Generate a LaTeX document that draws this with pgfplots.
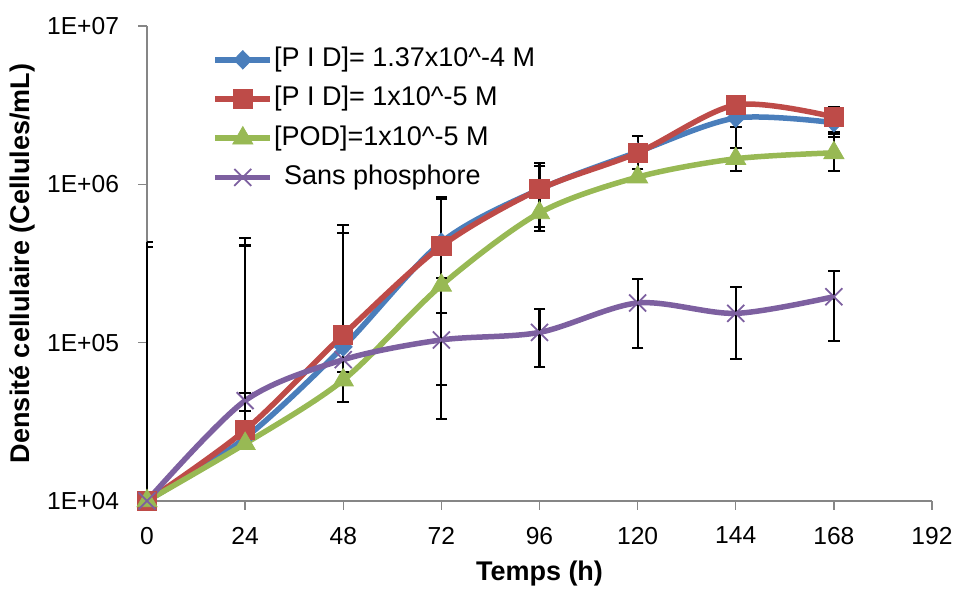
\documentclass[border=0pt]{standalone}
\usepackage{fontspec}
\setmainfont{Liberation Sans}
\usepackage{pgfplots}
\pgfplotsset{compat=1.18}
\usetikzlibrary{plotmarks}
\definecolor{cblue}{HTML}{4A7EBB}
\definecolor{cred}{HTML}{BE4B48}
\definecolor{cgreen}{HTML}{98B954}
\definecolor{cpurple}{HTML}{7D60A0}
\definecolor{axgray}{HTML}{868686}
\pgfplotsset{
  ebar/.style={black, line width=1.1pt, forget plot},
  ecap/.style={black, only marks, mark=-, mark size=2.9pt, mark options={line width=1.1pt, solid}, forget plot},
  sblue/.style={cblue, line width=2.75pt, mark=diamond*, mark size=4.6pt, mark options={fill=cblue, draw=cblue, line width=0.4pt, xscale=1.3}},
  sred/.style={cred, line width=2.75pt, mark=square*, mark size=4.8pt, mark options={fill=cred, draw=cred, line width=0.4pt}},
  sgreen/.style={cgreen, line width=2.75pt, mark=triangle*, mark size=5.8pt, mark options={fill=cgreen, draw=cgreen, line width=0.4pt}},
  spurple/.style={cpurple, line width=2.75pt, mark=x, mark size=6pt, mark options={draw=cpurple, line width=0.9pt}},
}
\begin{document}
\begin{tikzpicture}
\begin{axis}[
  scale only axis, width=392.5pt, height=237.5pt,
  ymode=log, xmin=0, xmax=192, ymin=1e4, ymax=1e7,
  clip=false,
  axis x line=bottom, axis y line=left,
  axis line style={axgray, line width=0.7pt, -},
  tick style={axgray, line width=0.7pt},
  tick align=outside, major tick length=4.5pt,
  xtick={0,24,...,192},
  ytick={1e4,1e5,1e6,1e7}, yticklabels={1E+04,1E+05,1E+06,1E+07},
  yminorticks=false,
  /pgf/number format/assume math mode=true,
  ticklabel style={font=\fontsize{12.3}{14}\selectfont, black},
  yticklabel style={xshift=-6pt},
  xticklabel style={yshift=-5pt},
  every axis y label/.style={at={(axis description cs:-0.159,0.5)}, rotate=90, anchor=center, font=\fontsize{13.5}{15}\selectfont\bfseries},
  every axis x label/.style={at={(axis description cs:0.5,-0.152)}, anchor=center, font=\fontsize{13.5}{15}\selectfont\bfseries},
  ylabel={Densité cellulaire (Cellules/mL)},
  xlabel={Temps (h)},
  legend cell align=left,
  legend style={draw=none, fill=none, at={(0.083,0.958)}, anchor=north west,
    inner sep=0pt, row sep=6.1pt, column sep=0pt,
    font=\fontsize{13.5}{15}\selectfont,
    nodes={inner sep=0.5pt, text height=9.7pt, text depth=2.8pt}},
  legend image code/.code={\draw[mark repeat=2, mark phase=2, #1] plot coordinates {(0pt,0pt) (13.75pt,0pt) (27.5pt,0pt)};},
]
% invisible frame giving the picture its proportions
\path (axis description cs:-0.1873,-0.1789) rectangle (axis description cs:1.0408,1.0547);

% lines
\addplot[sblue, no marks, smooth, forget plot] coordinates {(0,1e4) (24,2.5e4) (48,9.4e4) (72,4.3e5) (96,9.3e5) (120,1.6e6) (144,2.62e6) (168,2.45e6)};
\addplot[sred, no marks, smooth, forget plot] coordinates {(0,1e4) (24,2.8e4) (48,1.12e5) (72,4.07e5) (96,9.3e5) (120,1.58e6) (144,3.17e6) (168,2.66e6)};
\addplot[sgreen, no marks, smooth, forget plot] coordinates {(0,1e4) (24,2.3e4) (48,5.8e4) (72,2.3e5) (96,6.6e5) (120,1.11e6) (144,1.45e6) (168,1.58e6)};
\addplot[spurple, no marks, smooth, forget plot] coordinates {(0,1e4) (24,4.3e4) (48,7.8e4) (72,1.04e5) (96,1.16e5) (120,1.78e5) (144,1.53e5) (168,1.95e5)};

% error bars
\addplot[ebar] coordinates {(0,1e4) (0,4.3e5)};
\addplot[ebar] coordinates {(24,2.6e4) (24,4.6e5)};
\addplot[ebar] coordinates {(48,4.2e4) (48,5.5e5)};
\addplot[ebar] coordinates {(72,3.3e4) (72,8.3e5)};
\addplot[ebar] coordinates {(96,5.07e5) (96,1.36e6)};
\addplot[ebar] coordinates {(96,7.0e4) (96,1.63e5)};
\addplot[ebar] coordinates {(120,1.25e6) (120,2.02e6)};
\addplot[ebar] coordinates {(120,9.2e4) (120,2.52e5)};
\addplot[ebar] coordinates {(144,1.21e6) (144,3.0e6)};
\addplot[ebar] coordinates {(144,7.9e4) (144,2.24e5)};
\addplot[ebar] coordinates {(168,1.21e6) (168,3.08e6)};
\addplot[ebar] coordinates {(168,1.02e5) (168,2.83e5)};
% caps at t=0 (half, clipped by the axis)
\addplot[ecap, mark options={line width=1.1pt, xshift=1.45pt, xscale=0.5}] coordinates {(0,4.3e5) (0,4.0e5)};
% other caps
\addplot[ecap] coordinates {
(24,4.6e5) (24,4.1e5) (24,4.8e4) (24,3.7e4)
(48,5.5e5) (48,4.9e5) (48,6.5e4) (48,4.2e4)
(72,8.3e5) (72,8.1e5) (72,2.56e5) (72,1.54e5) (72,5.4e4) (72,3.3e4)
(96,1.36e6) (96,1.31e6) (96,5.37e5) (96,5.07e5) (96,1.63e5) (96,7.0e4)
(120,2.02e6) (120,1.25e6) (120,2.52e5) (120,9.2e4)
(144,2.3e6) (144,1.69e6) (144,1.21e6) (144,2.24e5) (144,7.9e4)
(168,3.08e6) (168,2.14e6) (168,2.08e6) (168,1.99e6) (168,1.21e6) (168,2.83e5) (168,1.02e5)
};

% markers
\addplot[sblue, only marks, forget plot] coordinates {(0,1e4) (24,2.5e4) (48,9.4e4) (72,4.3e5) (96,9.3e5) (120,1.6e6) (144,2.62e6) (168,2.45e6)};
\addplot[sred, only marks, forget plot] coordinates {(0,1e4) (24,2.8e4) (48,1.12e5) (72,4.07e5) (96,9.3e5) (120,1.58e6) (144,3.17e6) (168,2.66e6)};
\addplot[sgreen, only marks, forget plot] coordinates {(0,1e4) (24,2.3e4) (48,5.8e4) (72,2.3e5) (96,6.6e5) (120,1.11e6) (144,1.45e6) (168,1.58e6)};
\addplot[spurple, only marks, forget plot] coordinates {(0,1e4) (24,4.3e4) (48,7.8e4) (72,1.04e5) (96,1.16e5) (120,1.78e5) (144,1.53e5) (168,1.95e5)};

\addlegendimage{sblue}
\addlegendentry{[P I D]= 1.37x10\textasciicircum-4 M}
\addlegendimage{sred}
\addlegendentry{[P I D]= 1x10\textasciicircum-5 M}
\addlegendimage{sgreen}
\addlegendentry{[POD]=1x10\textasciicircum-5 M}
\addlegendimage{spurple}
\addlegendentry{\hspace*{5pt}Sans phosphore}
\end{axis}
\end{tikzpicture}
\end{document}
